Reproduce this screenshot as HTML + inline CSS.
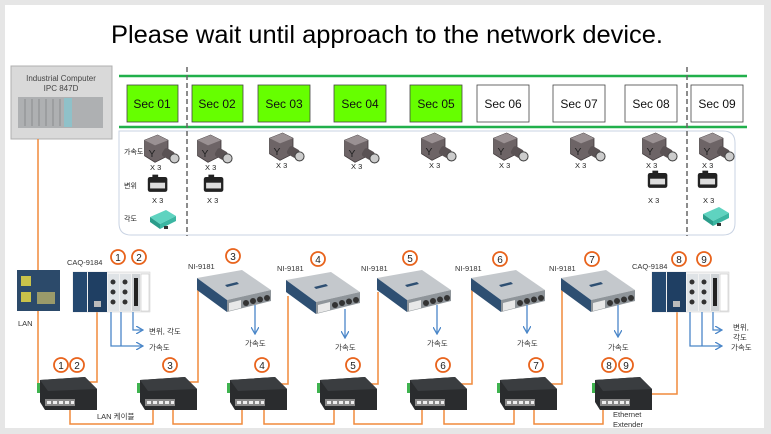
<!DOCTYPE html>
<html><head><meta charset="utf-8">
<style>
html,body{margin:0;padding:0;background:#e6e6e6;}
svg{display:block;}
text{font-family:"Liberation Sans","Noto Sans CJK KR",sans-serif;}
</style></head>
<body>
<svg width="771" height="434" viewBox="0 0 771 434" xmlns="http://www.w3.org/2000/svg">
<defs>
  <g id="acc0">
    <polygon points="-8,-6 2,-10 10,-6 10,6 0,11 -8,6" fill="#6d6466" stroke="#3c3537" stroke-width="0.6"/>
    <polygon points="-8,-6 2,-10 10,-6 0,-2" fill="#9a9193"/>
    <text x="-5" y="7" font-size="8" fill="#222">Y</text>
    <rect x="6" y="1" width="9" height="7" rx="2" fill="#5a5254" transform="rotate(30 10 4)"/>
    <circle cx="15" cy="8" r="3.5" fill="#ccc" stroke="#444" stroke-width="0.8"/>
  </g>
  <g id="acc"><use href="#acc0" transform="scale(1.3)"/></g>
  <g id="disp0">
    <rect x="-8" y="-7" width="17" height="13" rx="2" fill="#222"/>
    <rect x="-6" y="-2" width="13" height="5" fill="#ddd"/>
    <rect x="-4" y="-9" width="5" height="3" fill="#222"/>
  </g>
  <g id="disp"><use href="#disp0" transform="scale(1.15)"/></g>
  <g id="ang">
    <polygon points="-12,-2 4,-9 14,-3 -2,5" fill="#5fd3c0"/>
    <polygon points="-12,-2 -2,5 -2,10 -12,3" fill="#2a9c8a"/>
    <polygon points="-2,5 14,-3 14,2 -2,10" fill="#3bb6a2"/>
    <rect x="2" y="7" width="4" height="3" fill="#333"/>
  </g>
  <g id="sw">
    <rect x="-3" y="6" width="4" height="10" fill="#3fb34f"/>
    <polygon points="0,3 45,0 57,12 57,33 5,33 0,25" fill="#2a2c2e"/>
    <polygon points="0,3 45,0 57,12 8,14" fill="#3a3d40"/>
    <rect x="5" y="22" width="30" height="7" fill="#888"/>
    <rect x="7" y="24" width="4" height="3" fill="#eee"/><rect x="13" y="24" width="4" height="3" fill="#eee"/><rect x="19" y="24" width="4" height="3" fill="#eee"/><rect x="25" y="24" width="4" height="3" fill="#eee"/><rect x="31" y="24" width="3" height="3" fill="#eee"/>
  </g>
  <g id="ni">
    <polygon points="0,8 45,0 74,20 30,30" fill="#c4c8cc"/>
    <polygon points="0,8 30,30 30,42 0,20" fill="#2e4f72"/>
    <polygon points="30,30 74,20 74,31 30,42" fill="#8f959a"/>
    <polygon points="32,33 44,30 44,38 32,41" fill="#e8e8e8"/>
    <circle cx="49" cy="33" r="3" fill="#333"/><circle cx="56" cy="31" r="3" fill="#333"/><circle cx="63" cy="29.5" r="3" fill="#333"/><circle cx="70" cy="28" r="3" fill="#333"/>
    <polygon points="28,15 40,12 42,14 30,17" fill="#2e4f72"/>
  </g>
  <g id="caq">
    <rect x="0" y="0" width="77" height="40" fill="#f2f2f2" stroke="#ccc" stroke-width="0.5"/>
    <rect x="0" y="0" width="14" height="40" fill="#24486f"/>
    <rect x="15" y="0" width="19" height="40" fill="#1f3f63"/>
    <rect x="21" y="29" width="7" height="6" fill="#bbb"/>
    <rect x="35" y="2" width="11" height="37" fill="#dfe3e6"/>
    <rect x="47" y="2" width="11" height="37" fill="#dfe3e6"/>
    <circle cx="40" cy="10" r="2.5" fill="#333"/><circle cx="40" cy="20" r="2.5" fill="#333"/><circle cx="40" cy="30" r="2.5" fill="#333"/>
    <circle cx="52" cy="10" r="2.5" fill="#333"/><circle cx="52" cy="20" r="2.5" fill="#333"/><circle cx="52" cy="30" r="2.5" fill="#333"/>
    <rect x="59" y="2" width="8" height="37" fill="#cfd3d6"/><rect x="61" y="6" width="4" height="28" fill="#222"/>
    <rect x="68" y="2" width="8" height="37" fill="#fff" stroke="#bbb" stroke-width="0.5"/>
  </g>
  <g id="c"><circle r="7" fill="#fff" stroke="#e8631c" stroke-width="1.8"/></g>
  <marker id="ar" markerWidth="8" markerHeight="8" refX="7" refY="4" orient="auto" markerUnits="userSpaceOnUse"><path d="M0,0 L7,4 L0,8" fill="none" stroke="#4a86c8" stroke-width="1.3"/></marker>
</defs>

<rect x="5" y="5" width="759" height="423" fill="#fff"/>
<text x="111" y="43" font-size="25" textLength="552" lengthAdjust="spacingAndGlyphs" fill="#000">Please wait until approach to the network device.</text>

<!-- IPC -->
<rect x="11" y="66" width="101" height="73" fill="#d9d9d9" stroke="#b0b0b0"/>
<text x="61" y="81" font-size="8" text-anchor="middle" fill="#444">Industrial Computer</text>
<text x="61" y="91" font-size="8" text-anchor="middle" fill="#444">IPC 847D</text>
<rect x="18" y="97" width="85" height="31" fill="#aeb0b2"/>
<rect x="64" y="98" width="8" height="29" fill="#8fc1c9"/>
<g stroke="#8a8c8e" stroke-width="1"><line x1="25" y1="99" x2="25" y2="126"/><line x1="32" y1="99" x2="32" y2="126"/><line x1="39" y1="99" x2="39" y2="126"/><line x1="46" y1="99" x2="46" y2="126"/><line x1="53" y1="99" x2="53" y2="126"/><line x1="60" y1="99" x2="60" y2="126"/></g>

<!-- green lines & sections -->
<line x1="119" y1="76" x2="747" y2="76" stroke="#21b04b" stroke-width="2.5"/>
<line x1="119" y1="127" x2="747" y2="127" stroke="#21b04b" stroke-width="2.5"/>
<path d="M119,131 H723 Q735,131 735,143 V223 Q735,235 723,235 H131 Q119,235 119,223 Z" fill="#fff" stroke="#c9d3e3" stroke-width="1"/>
<g stroke="#444" stroke-width="0.8">
<rect x="127" y="85" width="51" height="37" fill="#66ff00"/>
<rect x="192" y="85" width="51" height="37" fill="#66ff00"/>
<rect x="258" y="85" width="52" height="37" fill="#66ff00"/>
<rect x="334" y="85" width="52" height="37" fill="#66ff00"/>
<rect x="410" y="85" width="52" height="37" fill="#66ff00"/>
<rect x="477" y="85" width="52" height="37" fill="#fff"/>
<rect x="553" y="85" width="52" height="37" fill="#fff"/>
<rect x="625" y="85" width="52" height="37" fill="#fff"/>
<rect x="691" y="85" width="52" height="37" fill="#fff"/>
</g>
<g font-size="12" fill="#111" text-anchor="middle">
<text x="152" y="108">Sec 01</text><text x="217" y="108">Sec 02</text><text x="284" y="108">Sec 03</text>
<text x="360" y="108">Sec 04</text><text x="436" y="108">Sec 05</text><text x="503" y="108">Sec 06</text>
<text x="579" y="108">Sec 07</text><text x="651" y="108">Sec 08</text><text x="717" y="108">Sec 09</text>
</g>
<line x1="187" y1="67" x2="187" y2="236" stroke="#666" stroke-width="1.5" stroke-dasharray="5,3"/>
<line x1="687" y1="67" x2="687" y2="236" stroke="#666" stroke-width="1.5" stroke-dasharray="5,3"/>

<!-- sensors -->
<g font-size="7" fill="#222">
<text x="124" y="154">가속도</text><text x="124" y="188">변위</text><text x="124" y="221">각도</text>
</g>
<use href="#acc" x="155" y="148"/><use href="#acc" x="208" y="148"/><use href="#acc" x="280" y="146"/><use href="#acc" x="355" y="148"/>
<use href="#acc" x="432" y="146"/><use href="#acc" x="504" y="146"/><use href="#acc" x="581" y="146"/><use href="#acc" x="653" y="146"/><use href="#acc" x="710" y="146"/>
<use href="#disp" x="157" y="185"/><use href="#disp" x="213" y="185"/><use href="#disp" x="657" y="181"/><use href="#disp" x="707" y="181"/>
<use href="#ang" x="162" y="219"/><use href="#ang" x="715" y="216"/>
<g font-size="7.5" fill="#222">
<text x="150" y="170">X 3</text><text x="205" y="170">X 3</text><text x="276" y="168">X 3</text><text x="351" y="169">X 3</text>
<text x="429" y="168">X 3</text><text x="499" y="168">X 3</text><text x="575" y="168">X 3</text><text x="646" y="168">X 3</text><text x="702" y="168">X 3</text>
<text x="152" y="203">X 3</text><text x="207" y="203">X 3</text><text x="648" y="203">X 3</text><text x="703" y="203">X 3</text>
</g>

<!-- orange wiring -->
<g fill="none" stroke="#f08a3c" stroke-width="1.5">
<path d="M38,139 V390 H40"/>
<path d="M97,305 V382 H67 V398"/>
<path d="M198,290 V382 H167 V398"/>
<path d="M288,296 V384 H258 V398"/>
<path d="M378,292 V384 H348 V398"/>
<path d="M472,290 V384 H442 V398"/>
<path d="M562,290 V384 H532 V398"/>
<path d="M677,305 V394 H629"/>
<path d="M70,410 V424 H153 V410"/>
<path d="M173,410 V424 H242 V410"/>
<path d="M264,410 V424 H334 V410"/>
<path d="M354,410 V424 H422 V410"/>
<path d="M444,410 V424 H514 V410"/>
<path d="M534,410 V424 H603 V410"/>
</g>

<!-- LAN module -->
<rect x="17" y="270" width="43" height="41" fill="#2c4a6a"/>
<rect x="21" y="276" width="10" height="10" fill="#c9c24a"/><rect x="21" y="292" width="10" height="10" fill="#c9c24a"/>
<rect x="37" y="292" width="18" height="12" fill="#9a9a6a"/>
<text x="18" y="326" font-size="7.5" fill="#333">LAN</text>

<!-- CAQ left -->
<use href="#caq" x="73" y="272"/>
<text x="67" y="265" font-size="7.5" fill="#333">CAQ-9184</text>
<g fill="none" stroke="#4a86c8" stroke-width="1.3">
<path d="M111,312 V346 H143" marker-end="url(#ar)"/>
<path d="M121,312 V346"/>
<path d="M133,312 V330 H143" marker-end="url(#ar)"/>
</g>
<text x="149" y="334" font-size="7.5" fill="#333">변위, 각도</text>
<text x="149" y="350" font-size="7.5" fill="#333">가속도</text>

<!-- NI devices -->
<use href="#ni" x="197" y="270"/><use href="#ni" x="286" y="272"/><use href="#ni" x="377" y="270"/><use href="#ni" x="471" y="270"/><use href="#ni" x="561" y="270"/>
<g font-size="7.5" fill="#333">
<text x="188" y="269">NI-9181</text><text x="277" y="271">NI-9181</text><text x="361" y="271">NI-9181</text><text x="455" y="271">NI-9181</text><text x="549" y="271">NI-9181</text>
</g>
<g fill="none" stroke="#4a86c8" stroke-width="1.3">
<path d="M255,305 V334" marker-end="url(#ar)"/>
<path d="M345,309 V338" marker-end="url(#ar)"/>
<path d="M437,305 V334" marker-end="url(#ar)"/>
<path d="M527,305 V333" marker-end="url(#ar)"/>
<path d="M618,305 V337" marker-end="url(#ar)"/>
</g>
<g font-size="7.5" fill="#333">
<text x="245" y="346">가속도</text><text x="335" y="350">가속도</text><text x="427" y="346">가속도</text><text x="517" y="346">가속도</text><text x="608" y="350">가속도</text>
</g>

<!-- CAQ right -->
<use href="#caq" x="652" y="272"/>
<text x="632" y="269" font-size="7.5" fill="#333">CAQ-9184</text>
<g fill="none" stroke="#4a86c8" stroke-width="1.3">
<path d="M690,312 V346 H722" marker-end="url(#ar)"/>
<path d="M702,312 V346"/>
<path d="M713,312 V330 H722" marker-end="url(#ar)"/>
</g>
<text x="733" y="330" font-size="7.5" fill="#333">변위,</text>
<text x="733" y="340" font-size="7.5" fill="#333">각도</text>
<text x="731" y="350" font-size="7.5" fill="#333">가속도</text>

<!-- switches -->
<use href="#sw" x="40" y="377"/><use href="#sw" x="140" y="377"/><use href="#sw" x="230" y="377"/><use href="#sw" x="320" y="377"/>
<use href="#sw" x="410" y="377"/><use href="#sw" x="500" y="377"/><use href="#sw" x="595" y="377"/>
<text x="97" y="419" font-size="7.5" fill="#333">LAN 케이블</text>
<text x="613" y="417" font-size="7.5" fill="#333">Ethernet</text>
<text x="613" y="427" font-size="7.5" fill="#333">Extender</text>

<!-- circled numbers -->
<g font-size="10" text-anchor="middle" fill="#222">
<use href="#c" x="118" y="257"/><text x="118" y="261">1</text>
<use href="#c" x="139" y="257"/><text x="139" y="261">2</text>
<use href="#c" x="233" y="256"/><text x="233" y="260">3</text>
<use href="#c" x="318" y="259"/><text x="318" y="263">4</text>
<use href="#c" x="410" y="258"/><text x="410" y="262">5</text>
<use href="#c" x="500" y="259"/><text x="500" y="263">6</text>
<use href="#c" x="592" y="259"/><text x="592" y="263">7</text>
<use href="#c" x="679" y="259"/><text x="679" y="263">8</text>
<use href="#c" x="704" y="259"/><text x="704" y="263">9</text>
<use href="#c" x="61" y="365"/><text x="61" y="369">1</text>
<use href="#c" x="77" y="365"/><text x="77" y="369">2</text>
<use href="#c" x="170" y="365"/><text x="170" y="369">3</text>
<use href="#c" x="262" y="365"/><text x="262" y="369">4</text>
<use href="#c" x="353" y="365"/><text x="353" y="369">5</text>
<use href="#c" x="443" y="365"/><text x="443" y="369">6</text>
<use href="#c" x="536" y="365"/><text x="536" y="369">7</text>
<use href="#c" x="609" y="365"/><text x="609" y="369">8</text>
<use href="#c" x="626" y="365"/><text x="626" y="369">9</text>
</g>
</svg>
</body></html>
